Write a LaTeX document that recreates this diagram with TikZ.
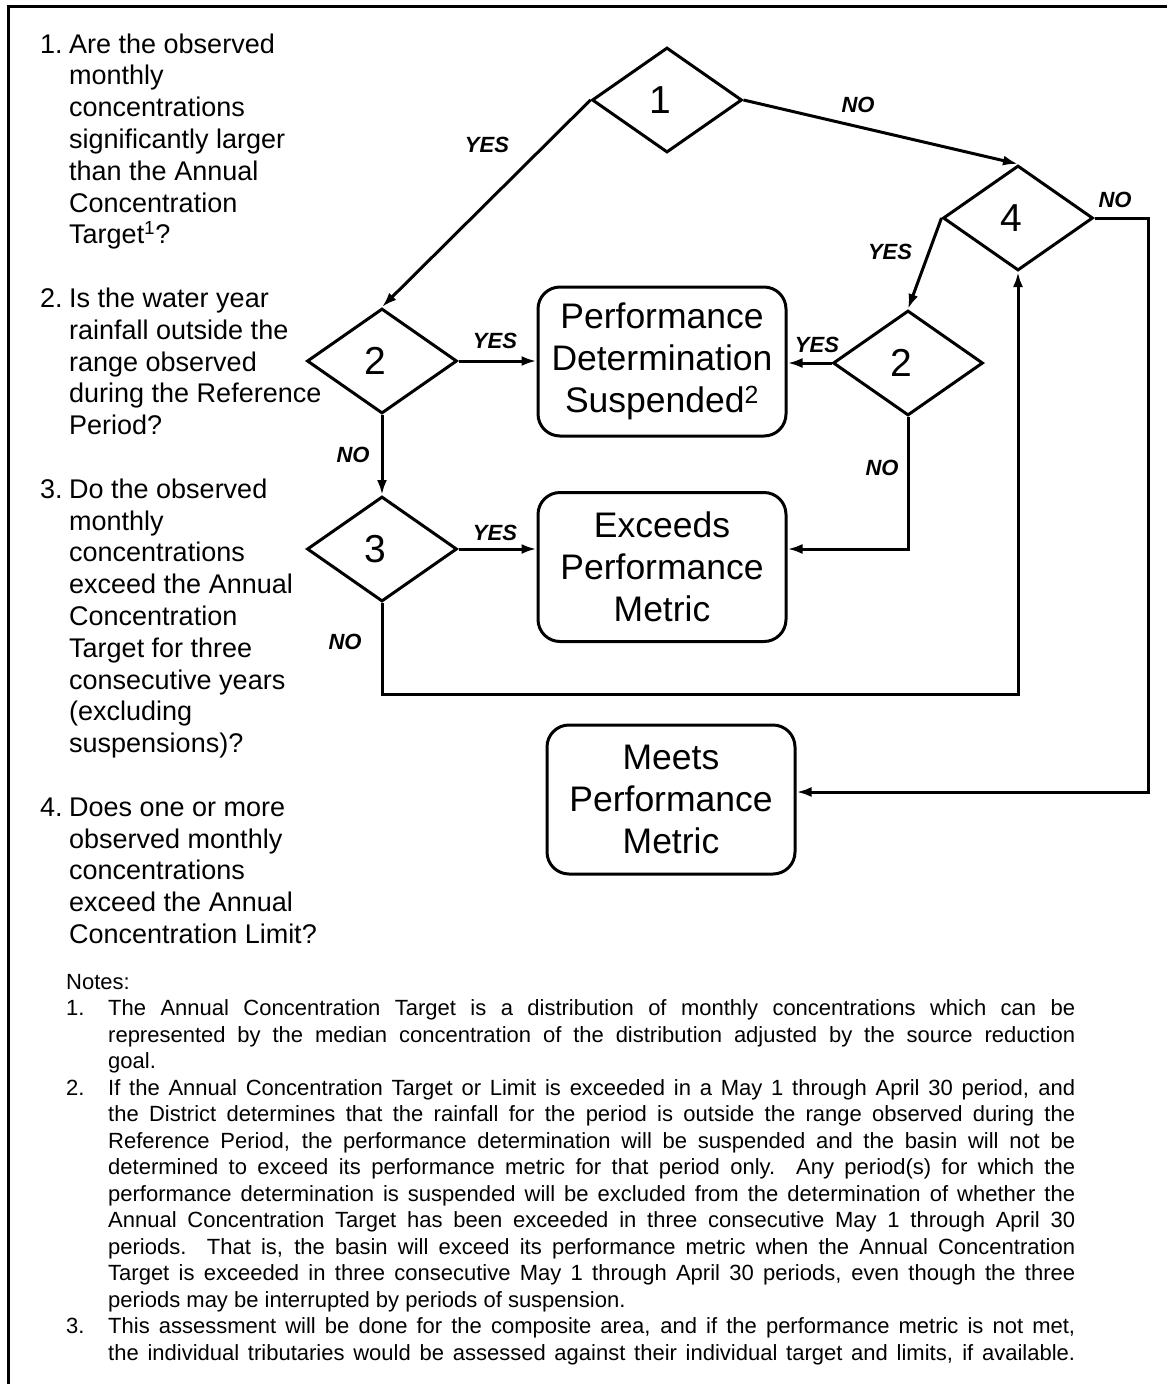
\documentclass[tikz,border=0pt]{standalone}
\usepackage{fontspec}
\setmainfont{Liberation Sans}
\usetikzlibrary{shapes.geometric,arrows.meta,calc}
\newcommand{\jl}[1]{\makebox[967pt][s]{#1}}
\newcommand{\dg}[1]{#1\hspace*{14pt}}
\tikzset{
  dia/.style={diamond, draw, line width=3pt, minimum width=150pt, minimum height=105pt,
              inner sep=0pt, aspect=1.43, font=\fontsize{39}{39}\selectfont},
  bx/.style={draw, rounded corners=22pt, line width=3pt, minimum width=248pt,
             minimum height=149pt, align=center, inner sep=0pt,
             font=\fontsize{35.5}{42}\selectfont},
  lab/.style={inner sep=0pt, font=\fontsize{22}{22}\selectfont\bfseries\itshape},
  conn/.style={line width=3pt, -{Latex[length=15pt,width=10pt]}},
}
\begin{document}
\begin{tikzpicture}[x=1pt,y=-1pt]
\useasboundingbox (0,0) rectangle (1167,1384);
% frame
\draw[line width=3pt] (8,1395) -- (8,6) -- (1180,6);

% decision diamonds
\node[dia] (d1) at (667,100) {\dg{1}};
\node[dia] (d4) at (1018,218) {\dg{4}};
\node[dia] (d2a) at (382,361) {\dg{2}};
\node[dia] (d3) at (382,549) {\dg{3}};
\node[dia] (d2b) at (908,363) {\dg{2}};

% outcome boxes
\node[bx] (pds) at (662,361.5) {Performance\\Determination\\Suspended\textsuperscript{2}};
\node[bx] (exc) at (662,567) {Exceeds\\Performance\\Metric};
\node[bx] (meets) at (671,799.5) {Meets\\Performance\\Metric};

% helper coordinates
\coordinate (lowY) at (0,694);
\coordinate (rgt) at (1148,792);

% connectors
\draw[conn] (d1.west) -- (d2a.north);
\draw[conn] (d1.east) -- (d4.north);
\draw[conn] (d4.west) -- (d2b.north);
\draw[conn] (d2a.east) -- (d2a.east -| pds.west);
\draw[conn] (d2b.west) -- (d2b.west -| pds.east);
\draw[conn] (d2a.south) -- (d3.north);
\draw[conn] (d3.east) -- (d3.east -| exc.west);
\draw[conn] (d2b.south) |- (d3.east -| exc.east);
\draw[conn] (d3.south) -- (d3.south |- lowY) -| (d4.south);
\draw[conn] (d4.east) -| (rgt) -- (rgt -| meets.east);

% labels
\node[lab] (n1) at (858,105) {NO};
\node[lab] (y1) at (487,145) {YES};
\node[lab] (n4) at (1115,200) {NO};
\node[lab] (y4) at (890,252) {YES};
\node[lab] (y2a) at (495,341) {YES};
\node[lab] (n2a) at (353,455) {NO};
\node[lab] (y2b) at (817,345) {YES};
\node[lab] (n2b) at (882,468) {NO};
\node[lab] (y3) at (495,533) {YES};
\node[lab] (n3) at (345,642) {NO};

% questions
\node[anchor=base west, inner sep=0pt, font=\fontsize{27}{31.8}\selectfont] (qs) at (40,53) {%
\begin{tabular}[t]{@{}p{29pt}@{}l@{}}
1. & Are the observed\\
 & monthly\\
 & concentrations\\
 & significantly larger\\
 & than the Annual\\
 & Concentration\\
 & Target\textsuperscript{1}?\\
 & \\
2. & Is the water year\\
 & rainfall outside the\\
 & range observed\\
 & during the Reference\\
 & Period?\\
 & \\
3. & Do the observed\\
 & monthly\\
 & concentrations\\
 & exceed the Annual\\
 & Concentration\\
 & Target for three\\
 & consecutive years\\
 & (excluding\\
 & suspensions)?\\
 & \\
4. & Does one or more\\
 & observed monthly\\
 & concentrations\\
 & exceed the Annual\\
 & Concentration Limit?
\end{tabular}};

% notes
\node[anchor=base west, inner sep=0pt, font=\fontsize{22}{26.5}\selectfont] (notes) at (66,989) {%
\begin{tabular}[t]{@{}p{42pt}@{}l@{}}
\multicolumn{2}{@{}l@{}}{Notes:}\\
1. & \jl{The Annual Concentration Target is a distribution of monthly concentrations which can be}\\
 & \jl{represented by the median concentration of the distribution adjusted by the source reduction}\\
 & goal.\\
2. & \jl{If the Annual Concentration Target or Limit is exceeded in a May 1 through April 30 period, and}\\
 & \jl{the District determines that the rainfall for the period is outside the range observed during the}\\
 & \jl{Reference Period, the performance determination will be suspended and the basin will not be}\\
 & \jl{determined to exceed its performance metric for that period only.\ \ Any period(s) for which the}\\
 & \jl{performance determination is suspended will be excluded from the determination of whether the}\\
 & \jl{Annual Concentration Target has been exceeded in three consecutive May 1 through April 30}\\
 & \jl{periods.\ \ That is, the basin will exceed its performance metric when the Annual Concentration}\\
 & \jl{Target is exceeded in three consecutive May 1 through April 30 periods, even though the three}\\
 & periods may be interrupted by periods of suspension.\\
3. & \jl{This assessment will be done for the composite area, and if the performance metric is not met,}\\
 & \jl{the individual tributaries would be assessed against their individual target and limits, if available.}
\end{tabular}};
\end{tikzpicture}
\end{document}
